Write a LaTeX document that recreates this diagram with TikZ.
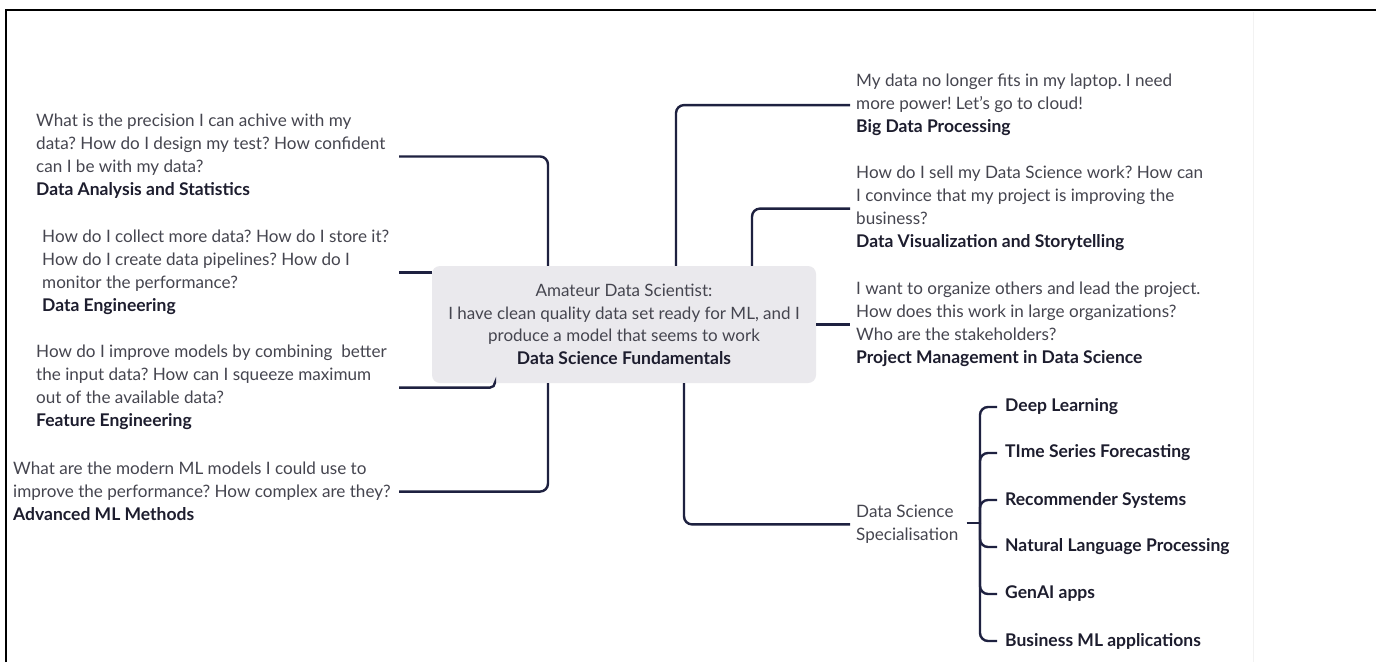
\documentclass[tikz,border=0pt]{standalone}
\usepackage{fontspec}
\setmainfont{Lato}
\frenchspacing
\definecolor{linec}{HTML}{1E2140}
\definecolor{txtc}{HTML}{45454F}
\definecolor{boldc}{HTML}{1D1D2E}
\definecolor{boxc}{HTML}{EAE9ED}
\newcommand{\ttl}[1]{{\fontsize{17.5}{23}\selectfont\color{boldc}\bfseries #1}}
\begin{document}
\begin{tikzpicture}[x=1pt,y=-1pt,
  conn/.style={draw=linec, line width=2.4pt, rounded corners=8pt},
  desc/.style={anchor=north west, inner sep=0pt, align=left, text=txtc,
    font=\fontsize{17.1}{23}\selectfont\frenchspacing},
  item/.style={anchor=west, inner sep=0pt, text=boldc,
    font=\fontsize{17.5}{20}\selectfont\bfseries},
  centerbox/.style={fill=boxc, rounded corners=8pt, minimum width=384pt,
    minimum height=117pt, inner sep=0pt, align=center, text=txtc,
    font=\fontsize{17}{22.5}\selectfont\frenchspacing}]
\useasboundingbox (0,0) rectangle (1376,662);
\fill[white] (0,0) rectangle (1376,662);
% frame
\draw[black, line width=2.6pt] (5.8,662) -- (5.8,10) -- (1376,10);
\draw[black!5, line width=1pt] (1253,12) -- (1253,662);

% centre
\node[centerbox] (fund) at (624,324.5) {Amateur Data Scientist:\\
I have clean quality data set ready for ML, and I\\
produce a model that seems to work\\
\ttl{Data Science Fundamentals}};

% left side
\node[desc] (das) at (36,114) {What is the precision I can achive with my\\
data? How do I design my test? How confident\\
can I be with my data?\\
\ttl{Data Analysis and Statistics}};
\node[desc] (de) at (42,230) {How do I collect more data? How do I store it?\\
How do I create data pipelines? How do I\\
monitor the performance?\\
\ttl{Data Engineering}};
\node[desc] (fe) at (36,345) {How do I improve models by combining\ \ better\\
the input data? How can I squeeze maximum\\
out of the available data?\\
\ttl{Feature Engineering}};
\node[desc] (aml) at (13,462) {What are the modern ML models I could use to\\
improve the performance? How complex are they?\\
\ttl{Advanced ML Methods}};

% right side
\node[desc] (bdp) at (856,74) {My data no longer fits in my laptop. I need\\
more power! Let's go to cloud!\\
\ttl{Big Data Processing}};
\node[desc] (dvs) at (856,166) {How do I sell my Data Science work? How can\\
I convince that my project is improving the\\
business?\\
\ttl{Data Visualization and Storytelling}};
\node[desc] (pm) at (856,282) {I want to organize others and lead the project.\\
How does this work in large organizations?\\
Who are the stakeholders?\\
\ttl{Project Management in Data Science}};
\node[desc] (dss) at (856,505) {Data Science\\Specialisation};

% specialisations
\node[item] (dl) at (1005,407) {Deep Learning};
\node[item] (tsf) at (1005,453) {TIme Series Forecasting};
\node[item] (rs) at (1005,500) {Recommender Systems};
\node[item] (nlp) at (1005,547) {Natural Language Processing};
\node[item] (gen) at (1005,594) {GenAI apps};
\node[item] (bml) at (1005,641) {Business ML applications};

% helper columns
\coordinate (lS) at (399,0);
\coordinate (vL) at (548,0);
\coordinate (vF) at (495,0);
\coordinate (vR1) at (676,0);
\coordinate (vR2) at (752,0);
\coordinate (vR3) at (684,0);
\coordinate (hub) at (980,523);

% connectors, left
\draw[conn] (das.east -| lS) -- (das.east -| vL) -- (vL |- fund.north);
\draw[conn] (de.east -| lS) -- (de.east -| fund.west);
\draw[conn, rounded corners=5pt] (fe.east -| lS) -- (fe.east -| vF) -- (vF |- fund.south);
\draw[conn] (aml.east -| lS) -- (aml.east -| vL) -- (vL |- fund.south);
% connectors, right
\draw[conn] (vR1 |- fund.north) -- (vR1 |- bdp.west) -- ([xshift=-6pt]bdp.west);
\draw[conn] (vR2 |- fund.north) -- (vR2 |- dvs.west) -- ([xshift=-6pt]dvs.west);
\draw[conn] (fund.east |- pm.west) -- ([xshift=-6pt]pm.west);
\draw[conn] (vR3 |- fund.south) -- (vR3 |- dss.west) -- ([xshift=-6pt]dss.west);
% specialisation tree
\draw[conn] ([xshift=8pt]dss.east |- hub) -- (hub);
\foreach \n in {dl,tsf,rs,nlp,gen,bml}
  \draw[conn] (hub) -- (hub |- \n.west) -- ([xshift=-8pt]\n.west);
\end{tikzpicture}
\end{document}
